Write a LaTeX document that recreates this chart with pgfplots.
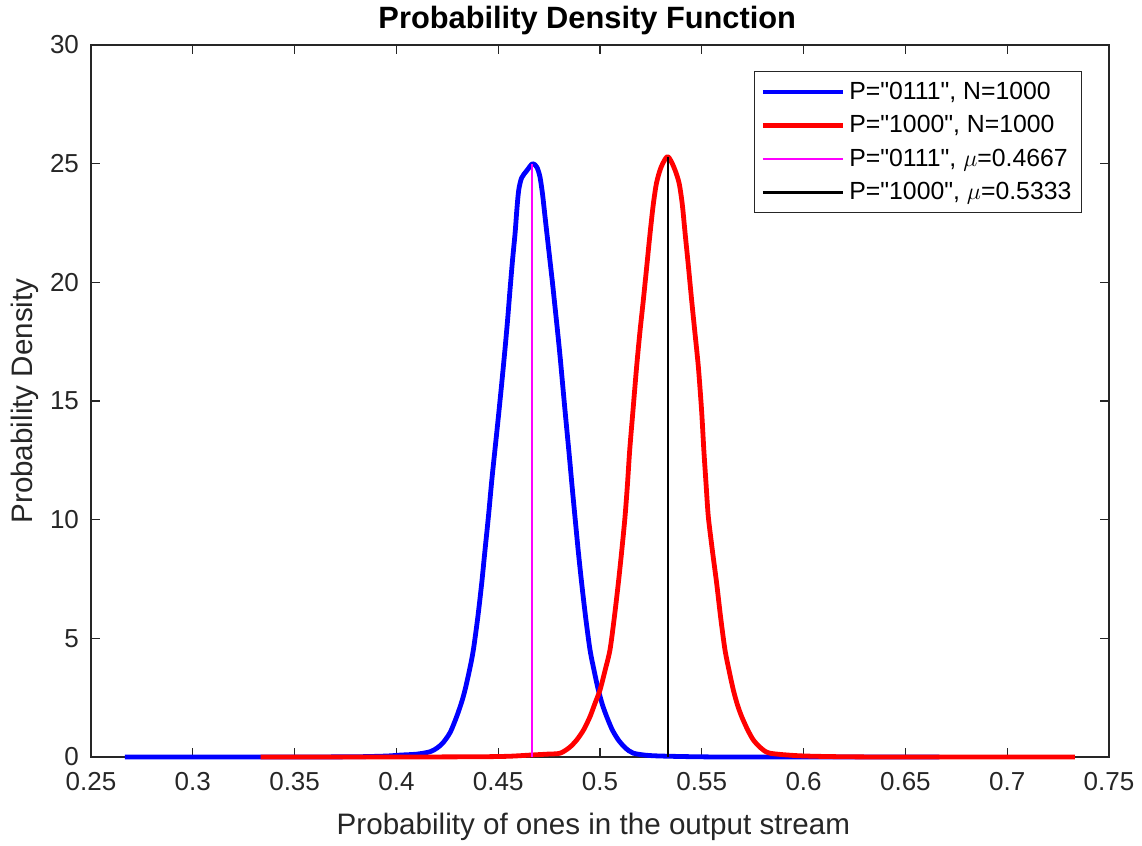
\documentclass[border=0pt]{standalone}
\usepackage{pgfplots}
\pgfplotsset{compat=1.18}
\usepackage{fontspec}
\setmainfont{Liberation Sans}[Ligatures=TeXOff]
\definecolor{axgray}{rgb}{0.15,0.15,0.15}
\definecolor{pmag}{rgb}{1,0,1}
\begin{document}
\begin{tikzpicture}
\begin{axis}[
  scale only axis,
  width=509pt, height=356pt,
  xmin=0.25, xmax=0.75, ymin=0, ymax=30,
  xtick={0.25,0.3,0.35,0.4,0.45,0.5,0.55,0.6,0.65,0.7,0.75},
  xticklabels={0.25,0.3,0.35,0.4,0.45,0.5,0.55,0.6,0.65,0.7,0.75},
  ytick={0,5,10,15,20,25,30},
  scaled x ticks=false,
  /pgf/number format/assume math mode=true,
  tick align=inside,
  major tick length=4.5pt,
  axis line style={axgray, line width=0.6pt},
  every tick/.style={axgray, line width=0.6pt},
  tick label style={font=\fontsize{13}{15}\selectfont, text=axgray},
  xticklabel style={yshift=-4pt},
  yticklabel style={xshift=-2.5pt},
  xlabel={Probability of ones in the output stream},
  ylabel={Probability Density},
  label style={font=\fontsize{14.8}{17}\selectfont, text=axgray},
  xlabel style={at={(axis description cs:0.4935,-0.0985)}, anchor=center},
  ylabel style={at={(axis description cs:-0.0648,0.5)}, anchor=center},
  legend style={at={(axis description cs:0.9735,0.9635)}, anchor=north east,
     draw=axgray, line width=0.6pt, fill=white,
     font=\fontsize{12.4}{14.5}\selectfont,
     row sep=2.6pt, inner xsep=3pt, inner ysep=3.1pt},
  legend cell align=left,
  legend image code/.code={\draw[#1] (0pt,0pt) -- (40pt,0pt);},
  clip=false,
]
\addplot[blue, line width=2.4pt, line join=round, smooth, tension=0.45] table {
0.2667 0
0.3000 0
0.3500 0
0.3800 0.01
0.3950 0.04
0.4018 0.08
0.4100 0.12
0.4165 0.22
0.4200 0.38
0.4231 0.62
0.4265 1.05
0.4296 1.70
0.4320 2.30
0.4337 2.82
0.4360 3.70
0.4378 4.51
0.4400 5.90
0.4419 7.32
0.4435 8.70
0.4452 10.13
0.4469 11.70
0.4484 12.94
0.4501 14.34
0.4518 15.80
0.4533 17.15
0.4546 18.40
0.4558 19.68
0.4570 20.90
0.4583 22.07
0.4592 23.10
0.4601 23.90
0.4615 24.40
0.4640 24.70
0.4669 25.00
0.4690 24.85
0.4705 24.45
0.4718 23.70
0.4730 22.77
0.4742 21.85
0.4754 20.94
0.4767 19.95
0.4779 18.97
0.4792 17.90
0.4804 16.87
0.4816 15.75
0.4828 14.62
0.4849 12.72
0.4863 11.40
0.4877 10.13
0.4893 8.70
0.4910 7.32
0.4930 5.85
0.4951 4.51
0.4972 3.60
0.4992 2.82
0.5012 2.20
0.5033 1.70
0.5060 1.15
0.5090 0.72
0.5125 0.38
0.5164 0.16
0.5246 0.06
0.5400 0.02
0.5600 0
0.6000 0
0.6667 0
};
\addlegendentry{P="0111", N=1000}
\addplot[red, line width=2.4pt, line join=round, smooth, tension=0.45] table {
0.3333 0
0.4000 0
0.4400 0.01
0.4550 0.03
0.4656 0.08
0.4740 0.12
0.4804 0.16
0.4850 0.40
0.4886 0.72
0.4920 1.15
0.4951 1.70
0.4975 2.25
0.5000 2.82
0.5025 3.65
0.5049 4.51
0.5070 5.85
0.5090 7.32
0.5107 8.70
0.5123 10.13
0.5135 11.50
0.5146 12.94
0.5162 14.60
0.5180 16.45
0.5196 17.90
0.5213 19.26
0.5230 20.70
0.5246 22.07
0.5262 23.30
0.5278 24.20
0.5300 24.85
0.5332 25.30
0.5363 24.85
0.5388 24.20
0.5404 23.30
0.5418 22.07
0.5434 20.70
0.5450 19.26
0.5466 17.90
0.5483 16.45
0.5499 14.60
0.5510 12.94
0.5521 11.50
0.5532 10.13
0.5552 8.70
0.5573 7.32
0.5593 5.85
0.5614 4.51
0.5635 3.60
0.5655 2.82
0.5675 2.20
0.5696 1.70
0.5725 1.15
0.5753 0.72
0.5790 0.38
0.5835 0.16
0.5983 0.05
0.6200 0.01
0.6500 0
0.7333 0
};
\addlegendentry{P="1000", N=1000}
\addplot[pmag, line width=1.2pt] coordinates {(0.4667,0) (0.4667,25.0)};
\addlegendentry{P="0111", $\mu$=0.4667}
\addplot[black, line width=1.2pt] coordinates {(0.5333,0) (0.5333,25.3)};
\addlegendentry{P="1000", $\mu$=0.5333}
\node[font=\fontsize{15.4}{18}\selectfont\bfseries, anchor=base] at (rel axis cs:0.4875,1.0225) {Probability Density Function};
\end{axis}
\pgfresetboundingbox
\path[use as bounding box] (-45.5pt,-44.5pt) rectangle (525.5pt,378.5pt);
\end{tikzpicture}
\end{document}
